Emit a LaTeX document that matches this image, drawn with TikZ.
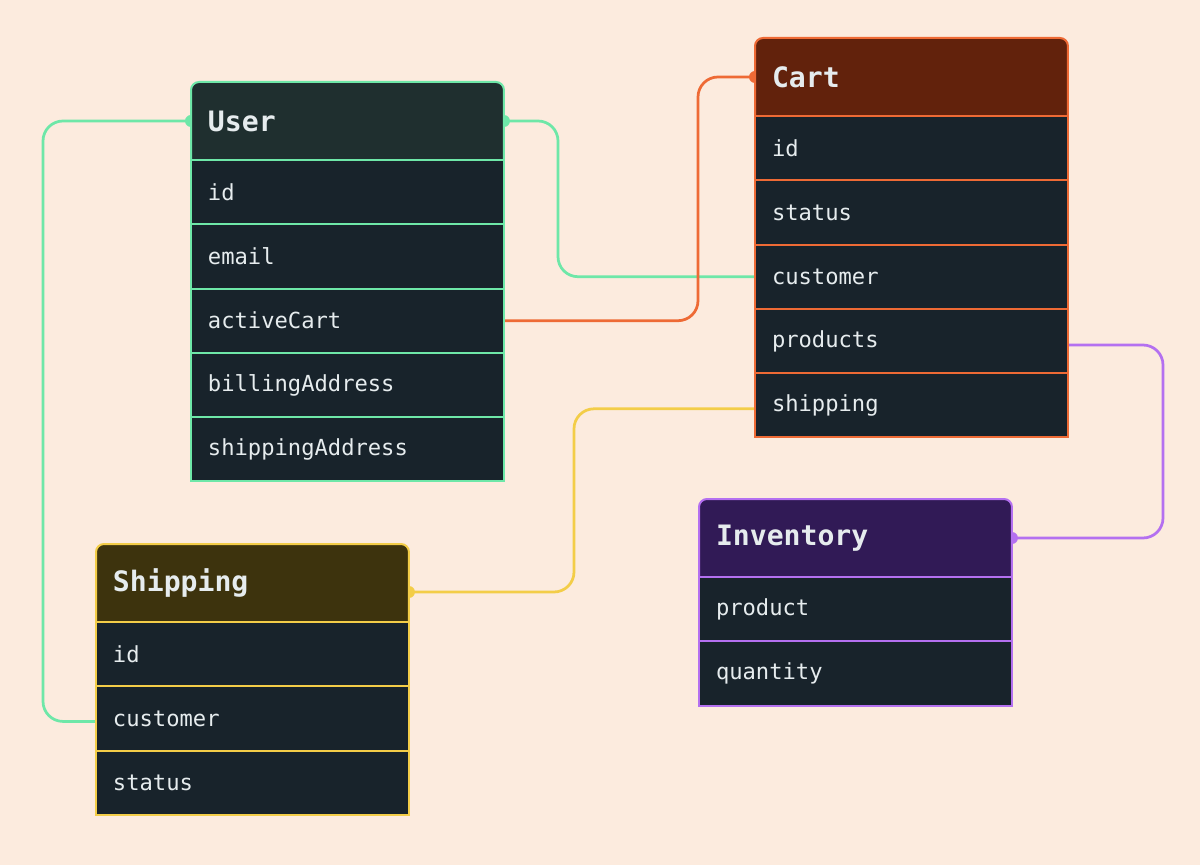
\documentclass[tikz,border=0pt]{standalone}
\usepackage{fontspec}
\newfontfamily\monof{DejaVu Sans Mono}
\definecolor{bg}{HTML}{FCEBDE}
\definecolor{rowbg}{HTML}{18232B}
\definecolor{txt}{HTML}{E6ECEE}
\definecolor{ugreen}{HTML}{6EE7A8}
\definecolor{uhead}{HTML}{1F2F2F}
\definecolor{corange}{HTML}{EE6A35}
\definecolor{chead}{HTML}{62220C}
\definecolor{syellow}{HTML}{F3CD48}
\definecolor{shead}{HTML}{3D330D}
\definecolor{ipurple}{HTML}{B470F0}
\definecolor{ihead}{HTML}{311A56}
\pgfdeclarelayer{back}
\pgfdeclarelayer{conn}
\pgfdeclarelayer{box}
\pgfsetlayers{back,conn,box,main}
\tikzset{
  row/.style={draw=#1, line width=0.04cm, fill=rowbg, text=txt, anchor=north west,
    inner xsep=0.34cm, inner ysep=0pt, outer sep=0pt, text width=5.58cm, minimum height=1.286cm,
    align=left, font=\monof\fontsize{12.6}{15}\selectfont},
  hdr/.style={anchor=north west, inner xsep=0.34cm, inner ysep=0pt, outer sep=0pt, text width=5.58cm,
    minimum height=1.56cm, align=left, text=txt,
    font=\monof\bfseries\fontsize{16}{19}\selectfont},
  hdrshape/.style={draw=#1, line width=0.04cm, rounded corners=0.16cm},
  link/.style={draw=#1, line width=0.055cm, rounded corners=0.4cm},
  dot/.style={fill=#1, draw=none}
}
\begin{document}
\begin{tikzpicture}[x=0.02cm,y=-0.02cm]
\begin{pgfonlayer}{back}
\fill[bg] (0,0) rectangle (1200,865);
\end{pgfonlayer}
\useasboundingbox (0,0) rectangle (1200,865);

% ---- User ----
\node[hdr] (uH) at (191,82) {User};
\node[row=ugreen] (uId) at (191,160) {id};
\node[row=ugreen] (uEmail) at (uId.south west) {email};
\node[row=ugreen] (uCart) at (uEmail.south west) {activeCart};
\node[row=ugreen] (uBill) at (uCart.south west) {billingAddress};
\node[row=ugreen] (uShip) at (uBill.south west) {shippingAddress};

% ---- Cart ----
\node[hdr] (cH) at (755,38) {Cart};
\node[row=corange] (cId) at (755,116) {id};
\node[row=corange] (cStatus) at (cId.south west) {status};
\node[row=corange] (cCust) at (cStatus.south west) {customer};
\node[row=corange] (cProd) at (cCust.south west) {products};
\node[row=corange] (cShip) at (cProd.south west) {shipping};

% ---- Shipping ----
\node[hdr] (sH) at (96,544) {Shipping};
\node[row=syellow] (sId) at (96,622) {id};
\node[row=syellow] (sCust) at (sId.south west) {customer};
\node[row=syellow] (sStatus) at (sCust.south west) {status};

% ---- Inventory ----
\node[hdr] (iH) at (699,499) {Inventory};
\node[row=ipurple] (iProd) at (699,577) {product};
\node[row=ipurple] (iQty) at (iProd.south west) {quantity};

% header shapes
\begin{pgfonlayer}{box}
\filldraw[hdrshape=ugreen, fill=uhead] (uH.south west) -- (uH.north west) -- (uH.north east) -- (uH.south east);
\filldraw[hdrshape=corange, fill=chead] (cH.south west) -- (cH.north west) -- (cH.north east) -- (cH.south east);
\filldraw[hdrshape=syellow, fill=shead] (sH.south west) -- (sH.north west) -- (sH.north east) -- (sH.south east);
\filldraw[hdrshape=ipurple, fill=ihead] (iH.south west) -- (iH.north west) -- (iH.north east) -- (iH.south east);
\end{pgfonlayer}

% connector end points and bend columns
\coordinate (pUa) at (uH.west);
\coordinate (pUb) at (uH.east);
\coordinate (pSc) at ([yshift=-0.06cm]sCust.west);
\coordinate (pCc) at (cCust.west);
\coordinate (pUc) at (uCart.east);
\coordinate (pCh) at (cH.west);
\coordinate (pCs) at ([yshift=-0.07cm]cShip.west);
\coordinate (pSh) at ([yshift=-0.18cm]sH.east);
\coordinate (pCp) at ([yshift=-0.08cm]cProd.east);
\coordinate (pIh) at (iH.east);
\coordinate (k1) at (43,0);
\coordinate (k2) at (558,0);
\coordinate (k3) at (698,0);
\coordinate (k4) at (574,0);
\coordinate (k5) at (1163,0);
\begin{pgfonlayer}{conn}
\draw[link=ugreen] (pUa) -| (k1 |- pSc) -- (pSc);
\draw[link=ugreen] (pUb) -| (k2 |- pCc) -- (pCc);
\draw[link=corange] (pUc) -| (k3 |- pCh) -- (pCh);
\draw[link=syellow] (pCs) -| (k4 |- pSh) -- (pSh);
\draw[link=ipurple] (pCp) -| (k5 |- pIh) -- (pIh);
\fill[dot=ugreen] (pUa) circle (0.12cm);
\fill[dot=ugreen] (pUb) circle (0.12cm);
\fill[dot=corange] (pCh) circle (0.12cm);
\fill[dot=syellow] (pSh) circle (0.12cm);
\fill[dot=ipurple] (pIh) circle (0.12cm);
\end{pgfonlayer}
\end{tikzpicture}
\end{document}
